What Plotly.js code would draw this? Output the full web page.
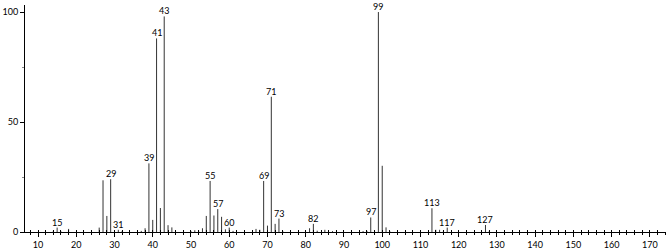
<!DOCTYPE html>
<html><head><meta charset="utf-8">
<script src="https://cdn.plot.ly/plotly-3.0.1.min.js"></script>
<style>html,body{margin:0;padding:0;background:#fff}#chart{width:667px;height:249px}</style>
</head><body><div id="chart"></div>
<script>
// m/z values and relative intensities
const mz = [14,15,16,18,26,27,28,29,30,31,32,37,38,39,40,41,42,43,44,45,50,51,52,53,54,55,56,57,58,59,60,61,67,68,69,70,71,72,73,74,81,82,83,85,87,95,96,97,98,99,100,101,102,113,114,115,116,117,127,128];
const intensity = [0.5,2,0.3,1.4,2,23.5,7.3,24,0.5,1,0.5,0.5,1.7,31.2,5.5,88,10.9,98,3.1,2.1,0.4,0.8,0.6,1.7,7.3,23.2,7.5,10.4,6.9,1.2,2,0.5,1.4,1,23.2,2.9,61.5,3.7,6.1,0.4,1.7,3.7,0.6,1,0.4,0.4,0.5,6.6,0.6,100,30.1,2.1,0.3,10.8,1,1,0.5,2,3.2,0.5];
const labelledPeaks = [15,29,31,39,41,43,55,57,60,69,71,73,82,97,99,113,117,127];
const xTickVals = [10,20,30,40,50,60,70,80,90,100,110,120,130,140,150,160,170];
const yTickVals = [0,50,100];

const font = {family: 'Lato, "DejaVu Sans", sans-serif', size: 9, color: '#000'};
const annotations = labelledPeaks.map(m => ({
  x: m, y: intensity[mz.indexOf(m)], xref: 'x', yref: 'y',
  text: String(m), showarrow: false, yanchor: 'bottom', yshift: -2, font: font
}));

// stick spectrum: one vertical segment per m/z value
const sx = [], sy = [];
mz.forEach((m, i) => { sx.push(m, m, null); sy.push(0, intensity[i], null); });
const trace = {type: 'scatter', mode: 'lines', x: sx, y: sy,
  line: {color: '#333', width: 1}, hoverinfo: 'skip', cliponaxis: false};
const ghost = {type: 'scatter', x: [], y: [], xaxis: 'x2', yaxis: 'y', showlegend: false};

const layout = {
  width: 667, height: 249, paper_bgcolor: '#fff', plot_bgcolor: '#fff',
  margin: {l: 25, r: 1, t: 5, b: 17}, showlegend: false,
  font: font,
  xaxis: {range: [6.6, 174.2], showgrid: false, zeroline: false, showline: true, linecolor: '#000', linewidth: 1,
    tickmode: 'array', tickvals: xTickVals, ticktext: xTickVals.map(String), ticks: 'outside', ticklen: 4, tickcolor: '#000',
    minor: {ticks: 'outside', dtick: 2, tick0: 0, ticklen: 2, tickcolor: '#000'}, tickfont: font},
  xaxis2: {overlaying: 'x', matches: 'x', range: [6.6, 174.2], showgrid: false, zeroline: false, showline: false,
    ticks: 'inside', dtick: 2, tick0: 0, ticklen: 2, tickcolor: '#000', showticklabels: false, anchor: 'y'},
  yaxis: {range: [0, 103.2], showgrid: false, zeroline: false, showline: true, linecolor: '#000', linewidth: 1,
    tickmode: 'array', tickvals: yTickVals, ticktext: yTickVals.map(String), ticks: 'outside', ticklen: 4, tickcolor: '#000',
    minor: {ticks: 'outside', dtick: 25, tick0: 0, ticklen: 2, tickcolor: '#888'}, tickfont: font},
  annotations: annotations
};
Plotly.newPlot('chart', [trace, ghost], layout, {displayModeBar: false, staticPlot: true});
</script></body></html>
